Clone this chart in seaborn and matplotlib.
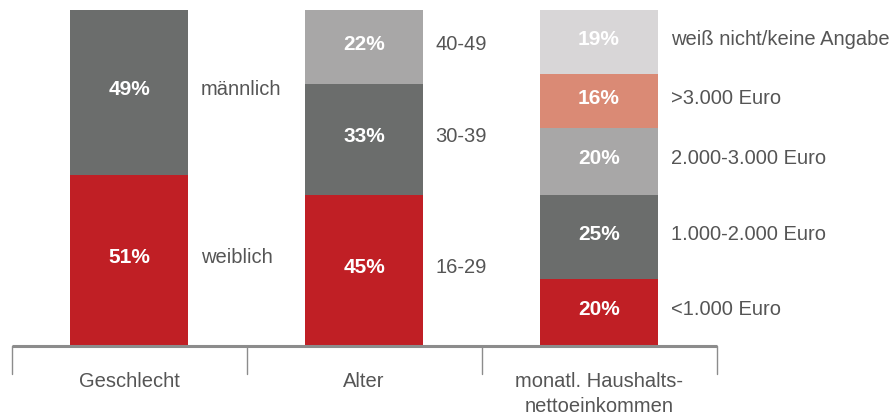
import matplotlib
matplotlib.use("Agg")
import matplotlib.pyplot as plt
import matplotlib.transforms as mtransforms
import pandas as pd
import seaborn as sns

# ---------- DATA ----------
categories = ["Geschlecht", "Alter", "monatl. Haushalts-\nnettoeinkommen"]

geschlecht_vals = [51, 49]
geschlecht_labels = ["weiblich", "männlich"]

alter_vals = [45, 33, 22]
alter_labels = ["16-29", "30-39", "40-49"]

einkommen_vals = [20, 25, 20, 16, 19]
einkommen_labels = ["<1.000 Euro", "1.000-2.000 Euro", "2.000-3.000 Euro",
                    ">3.000 Euro", "weiß nicht/keine Angabe"]

layer_colors = ["#C01F25", "#6B6D6C", "#A8A7A7", "#DA8A75", "#D8D6D7"]

# ---------- STYLE ----------
sns.set_theme(style="white")
plt.rcParams["font.family"] = ["Liberation Sans", "DejaVu Sans"]
TEXT_GREY = "#555555"
LINE_GREY = "#8C8C8C"

# long format with cumulative tops
rows = []
for cat, vals, labs in zip(categories,
                           [geschlecht_vals, alter_vals, einkommen_vals],
                           [geschlecht_labels, alter_labels, einkommen_labels]):
    cum = 0
    for layer, (v, lab) in enumerate(zip(vals, labs)):
        rows.append(dict(cat=cat, layer=layer, value=v, bottom=cum,
                         top=cum + v, label=lab))
        cum += v
df = pd.DataFrame(rows)

fig = plt.figure(figsize=(8.93, 4.16), dpi=100)
ax = fig.add_axes([0, (416 - 346) / 416, 1, 336 / 416])

# stacked bars: draw the highest cumulative layer first, overdraw downward
for layer in sorted(df["layer"].unique(), reverse=True):
    d = df[df["layer"] == layer]
    sns.barplot(data=d, x="cat", y="top", order=categories, color=layer_colors[layer],
                width=0.5, saturation=1, linewidth=0, ax=ax, errorbar=None)

pos = {c: i for i, c in enumerate(categories)}
for _, r in df.iterrows():
    x = pos[r["cat"]]
    yc = r["bottom"] + r["value"] / 2 + 0.8
    ax.text(x, yc, f"{r['value']}%", ha="center", va="center", color="white",
            fontsize=15, fontweight="bold")
    ax.text(x + 0.305, yc, r["label"], ha="left", va="center", color=TEXT_GREY,
            fontsize=14.5)

ax.set_xlim(-0.549, 3.251)
ax.set_ylim(0, 100)
for s in ax.spines.values():
    s.set_visible(False)
ax.set_yticks([])
ax.set_xlabel("")
ax.set_ylabel("")

# baseline + separators
ax.plot([-0.5, 2.5], [0, 0], color=LINE_GREY, lw=2.2, clip_on=False, solid_capstyle="butt")
trans = mtransforms.blended_transform_factory(ax.transData, ax.transAxes)
for xs in [-0.5, 0.5, 1.5, 2.5]:
    ax.plot([xs, xs], [0, -28 / 336], color=LINE_GREY, lw=1, transform=trans, clip_on=False)

ax.set_xticks(range(len(categories)))
ax.set_xticklabels(categories, fontsize=14.5, color=TEXT_GREY, linespacing=1.4)
ax.tick_params(axis="x", length=0, pad=19)

fig.savefig("out.png", dpi=100)
